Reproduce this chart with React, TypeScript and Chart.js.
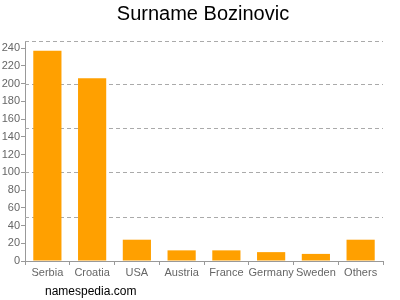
import React, { useEffect, useRef } from "react";
import { Chart, registerables } from "chart.js";

Chart.register(...registerables);

const categories = ["Serbia", "Croatia", "USA", "Austria", "France", "Germany", "Sweden", "Others"];
const counts = [237, 206, 24, 12, 12, 10, 8, 24];
const yTicks = [0, 20, 40, 60, 80, 100, 120, 140, 160, 180, 200, 220, 240];
const gridValues = [50, 100, 150, 200, 248];
const yMax = 248;

const dashedGrid = {
  id: "dashedGrid",
  beforeDatasetsDraw(chart: any) {
    const { ctx, chartArea, scales } = chart;
    const y = scales.y;
    ctx.save();
    ctx.strokeStyle = "#aaaaaa";
    ctx.lineWidth = 1;
    ctx.setLineDash([4, 3]);
    for (const v of gridValues) {
      const py = Math.round(y.getPixelForValue(v)) + 0.5;
      ctx.beginPath();
      ctx.moveTo(chartArea.left, py);
      ctx.lineTo(chartArea.right, py);
      ctx.stroke();
    }
    ctx.restore();
  },
};

export default function App() {
  const ref = useRef<HTMLCanvasElement>(null);
  useEffect(() => {
    const chart = new Chart(ref.current!, {
      type: "bar",
      data: {
        labels: categories,
        datasets: [
          {
            data: counts,
            backgroundColor: "#ffa000",
            borderWidth: 0,
            barPercentage: 0.63,
            categoryPercentage: 1,
          },
        ],
      },
      options: {
        responsive: false,
        animation: false,
        layout: { padding: { left: 0, right: 17, top: 41, bottom: 0 } },
        plugins: { legend: { display: false }, title: { display: false }, tooltip: { enabled: false } },
        scales: {
          x: {
            offset: true,
            grid: { drawOnChartArea: false, drawTicks: true, tickLength: 4, color: "#999999" },
            border: { color: "#999999" },
            ticks: { color: "#666666", font: { family: "Liberation Sans, Arial", size: 11 }, padding: 1, maxRotation: 0, autoSkip: false },
            afterFit: (s: any) => { s.height = 39; },
          },
          y: {
            min: 0,
            max: yMax,
            grid: { drawOnChartArea: false, drawTicks: true, tickLength: 4, color: "#999999" },
            border: { color: "#999999" },
            ticks: { color: "#666666", font: { family: "Liberation Sans, Arial", size: 11 }, padding: 1 },
            afterBuildTicks: (s: any) => { s.ticks = yTicks.map((v) => ({ value: v })); },
            afterFit: (s: any) => { s.width = 25; },
          },
        },
      },
      plugins: [dashedGrid],
    });
    return () => chart.destroy();
  }, []);
  return (
    <div style={{ position: "absolute", left: 0, top: 0, width: 400, height: 300, background: "#fff" }}>
      <canvas ref={ref} width={400} height={300} style={{ position: "absolute", left: 0, top: 0 }} />
      <div style={{ position: "absolute", left: 0, top: 2, width: 406, textAlign: "center", fontFamily: "Liberation Sans, Arial", fontSize: 20, color: "#000" }}>
        Surname Bozinovic
      </div>
      <div style={{ position: "absolute", left: 45, top: 284, fontFamily: "Liberation Sans, Arial", fontSize: 12, color: "#000" }}>
        namespedia.com
      </div>
    </div>
  );
}
